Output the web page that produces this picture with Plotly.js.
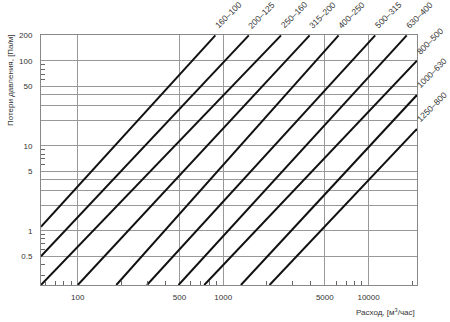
<!DOCTYPE html>
<html><head><meta charset="utf-8">
<script src="https://cdn.plot.ly/plotly-3.0.1.min.js"></script>
<style>html,body{margin:0;padding:0;background:#fff}#chart{width:450px;height:322px}</style>
</head><body><div id="chart"></div>
<script>
const lineLabels = ['160–100','200–125','250–160','315–200','400–250','500–315','630–400','800–500','1000–630','1250–800'];
const flowStart = [55.8, 55.8, 55.8, 100, 184, 299, 493, 741, 1324, 2084];
const lossStart = [1.11, 0.5, 0.229, 0.229, 0.229, 0.229, 0.229, 0.229, 0.229, 0.229];
const flowEnd = [883, 1500, 2500, 3930, 6220, 11100, 18300, 21500, 21500, 21500];
const lossEnd = [200, 200, 200, 200, 200, 200, 200, 101, 39.7, 15.8];
const xTickVals = [100, 500, 1000, 5000, 10000];
const xTickText = ['100', '500', '1000', '5000', '10000'];
const xMinorVals = [60, 70, 80, 90, 200, 300, 400, 600, 700, 800, 900, 2000, 3000, 4000, 6000, 7000, 8000, 9000, 20000];
const yTickVals = [0.5, 1, 2, 3, 4, 5, 10, 20, 30, 40, 50, 100, 200];
const yTickText = ['0.5', '1', '', '', '', '5', '10', '', '', '', '50', '100', '200'];
const yMinorVals = [0.3, 0.4, 0.6, 0.7, 0.8, 0.9, 6, 7, 8, 9, 60, 70, 80, 90];
const yTitle = 'Потери давления, [Па/м]';
const xTitle = 'Расход, [м<sup>3</sup>/час]';

const FONT = 'Liberation Sans, Arial, sans-serif';
const traces = lineLabels.map((name, i) => ({
  type: 'scatter', mode: 'lines', name: name,
  x: [flowStart[i], flowEnd[i]], y: [lossStart[i], lossEnd[i]],
  line: {color: '#111', width: 2}, hoverinfo: 'skip', showlegend: false
}));

const annotations = lineLabels.map((name, i) => ({
  text: name, x: Math.log10(flowEnd[i]), y: Math.log10(lossEnd[i]),
  xref: 'x', yref: 'y', showarrow: false, textangle: -45,
  xanchor: 'left', yanchor: 'bottom', xshift: -5, yshift: 2,
  font: {family: FONT, size: 8.5, color: '#333'}
}));
annotations.push({
  text: yTitle, xref: 'paper', yref: 'paper', x: 0, y: 1, xshift: -31, yshift: 3,
  xanchor: 'center', yanchor: 'top', textangle: -90, showarrow: false,
  font: {family: FONT, size: 8, color: '#333'}
});
annotations.push({
  text: xTitle, xref: 'paper', yref: 'paper', x: 1, y: 0, yshift: -27,
  xanchor: 'right', yanchor: 'middle', showarrow: false,
  font: {family: FONT, size: 8, color: '#333'}
});

const layout = {
  width: 450, height: 322,
  margin: {l: 41, r: 33, t: 35, b: 37},
  paper_bgcolor: '#fff', plot_bgcolor: '#fff',
  font: {family: FONT, size: 8, color: '#333'},
  showlegend: false,
  xaxis: {
    type: 'log', range: [1.747, 4.333],
    tickmode: 'array', tickvals: xTickVals, ticktext: xTickText, ticks: '',
    showgrid: true, gridcolor: '#999', gridwidth: 1,
    showline: true, linecolor: '#888', linewidth: 1, mirror: true,
    zeroline: false, ticklabelstandoff: 4,
    tickfont: {family: FONT, size: 8, color: '#333'},
    minor: {tickmode: 'array', tickvals: xMinorVals, ticks: 'inside', ticklen: 4, tickcolor: '#666', tickwidth: 1, showgrid: false}
  },
  yaxis: {
    type: 'log', range: [-0.640, 2.306],
    tickmode: 'array', tickvals: yTickVals, ticktext: yTickText, ticks: '',
    showgrid: true, gridcolor: '#999', gridwidth: 1,
    showline: true, linecolor: '#888', linewidth: 1, mirror: true,
    zeroline: false, ticklabelstandoff: 6,
    tickfont: {family: FONT, size: 8, color: '#333'},
    minor: {tickmode: 'array', tickvals: yMinorVals, ticks: 'inside', ticklen: 4, tickcolor: '#666', tickwidth: 1, showgrid: false}
  },
  annotations: annotations
};
Plotly.newPlot('chart', traces, layout, {staticPlot: true, displayModeBar: false});
</script>
</body></html>
